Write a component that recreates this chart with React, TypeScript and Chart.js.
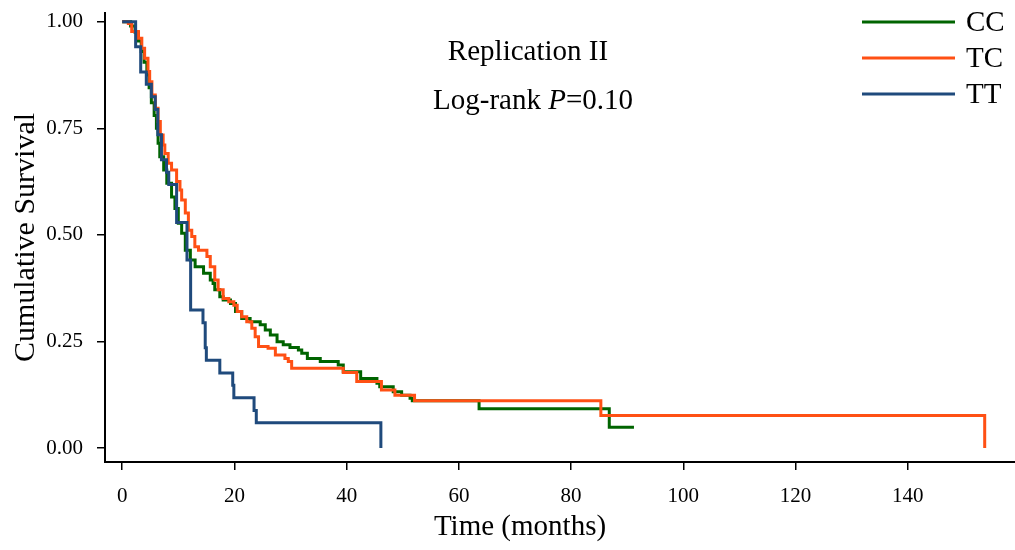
import React, { useEffect, useRef } from 'react';
import { Chart, registerables } from 'chart.js';

Chart.register(...registerables);

// ---------------- data ----------------
const SERIES_LABELS = ['CC', 'TC', 'TT'];
const SERIES_COLORS = ['#006400', '#FF5014', '#1F4A7C'];

const CC_TIME = [0, 1.5, 2.3, 2.9, 3.4, 3.9, 4.4, 4.8, 5.2, 5.7, 6.1, 6.4, 6.7, 7.4, 7.95, 8.8, 9.4, 10.0, 10.6, 11.25, 12.15, 13.0, 14.5, 15.7, 16.2, 16.5, 17.4, 18.0, 19.3, 20.2, 21.3, 22.8, 24.6, 25.5, 26.4, 27.6, 28.7, 29.9, 31.4, 32.0, 33.0, 35.3, 38.5, 39.4, 42.5, 45.4, 45.9, 48.3, 49.8, 51.3, 51.7, 63.6, 86.8, 91.2];
const CC_SURV = [1, 0.99, 0.975, 0.955, 0.93, 0.905, 0.875, 0.845, 0.81, 0.78, 0.75, 0.715, 0.683, 0.652, 0.621, 0.589, 0.562, 0.527, 0.504, 0.464, 0.441, 0.425, 0.41, 0.394, 0.386, 0.371, 0.355, 0.347, 0.339, 0.32, 0.304, 0.296, 0.289, 0.277, 0.265, 0.249, 0.242, 0.236, 0.23, 0.222, 0.21, 0.203, 0.195, 0.179, 0.163, 0.152, 0.144, 0.132, 0.124, 0.117, 0.111, 0.092, 0.0485, 0.0485];

const TC_TIME = [0, 1.1, 1.7, 2.9, 3.5, 4.0, 4.6, 4.9, 5.3, 5.9, 6.4, 6.8, 7.3, 7.6, 8.2, 8.8, 9.7, 10.3, 10.6, 11.25, 11.8, 12.4, 12.95, 13.6, 15.1, 15.7, 16.5, 17.1, 18.0, 19.0, 19.9, 20.5, 21.3, 22.2, 23.1, 23.7, 24.3, 26.0, 27.3, 29.0, 29.6, 30.2, 39.4, 41.8, 46.2, 48.6, 52.1, 85.3, 153.7];
const TC_SURV = [1, 0.996, 0.977, 0.961, 0.938, 0.914, 0.883, 0.859, 0.828, 0.797, 0.766, 0.734, 0.711, 0.691, 0.668, 0.652, 0.625, 0.605, 0.582, 0.551, 0.511, 0.496, 0.472, 0.464, 0.449, 0.425, 0.394, 0.371, 0.351, 0.343, 0.335, 0.32, 0.308, 0.296, 0.281, 0.261, 0.238, 0.234, 0.218, 0.21, 0.203, 0.187, 0.177, 0.156, 0.136, 0.124, 0.111, 0.076, 0];

const TT_TIME = [0, 2.4, 3.3, 4.3, 5.2, 5.9, 6.35, 7.0, 7.9, 8.3, 9.7, 11.55, 12.2, 14.4, 14.8, 15.0, 17.4, 19.7, 19.9, 23.5, 23.9, 46.1];
const TT_SURV = [1, 0.941, 0.882, 0.853, 0.824, 0.794, 0.735, 0.676, 0.647, 0.618, 0.529, 0.441, 0.324, 0.294, 0.235, 0.206, 0.176, 0.147, 0.118, 0.088, 0.059, 0];

const X_TICKS = [0, 20, 40, 60, 80, 100, 120, 140];
const Y_TICKS = [0, 0.25, 0.5, 0.75, 1];

const TITLE_TEXT = 'Replication II';
const LOGRANK_PREFIX = 'Log-rank ';
const LOGRANK_ITALIC = 'P';
const LOGRANK_SUFFIX = '=0.10';
const X_TITLE = 'Time (months)';
const Y_TITLE = 'Cumulative Survival';

const FONT = "'Liberation Serif', 'Times New Roman', serif";
const TEXT_SIZE = 29;
const Y_TITLE_SIZE = 30;
const TICK_SIZE = 21;

const toPoints = (t: number[], s: number[]) => t.map((x, i) => ({ x, y: s[i] }));

const overlayPlugin = {
  id: 'overlayText',
  afterDraw(chart: any) {
    const ctx: CanvasRenderingContext2D = chart.ctx;
    ctx.save();
    ctx.fillStyle = '#000';
    ctx.textBaseline = 'middle';

    const normal = `${TEXT_SIZE}px ${FONT}`;
    const italic = `italic ${TEXT_SIZE}px ${FONT}`;

    // Title
    ctx.font = normal;
    ctx.textAlign = 'center';
    ctx.fillText(TITLE_TEXT, 528, 52);

    // Log-rank line with italic P
    ctx.font = normal;
    const w1 = ctx.measureText(LOGRANK_PREFIX).width;
    const w3 = ctx.measureText(LOGRANK_SUFFIX).width;
    ctx.font = italic;
    const w2 = ctx.measureText(LOGRANK_ITALIC).width;
    let x = 533 - (w1 + w2 + w3) / 2;
    ctx.textAlign = 'left';
    ctx.font = normal;
    ctx.fillText(LOGRANK_PREFIX, x, 101);
    x += w1;
    ctx.font = italic;
    ctx.fillText(LOGRANK_ITALIC, x, 101);
    x += w2;
    ctx.font = normal;
    ctx.fillText(LOGRANK_SUFFIX, x, 101);

    // X axis title
    ctx.textAlign = 'center';
    ctx.fillText(X_TITLE, 520, 527);

    // Legend
    ctx.textAlign = 'left';
    chart.data.datasets.forEach((ds: any, i: number) => {
      const y = 22 + i * 36;
      ctx.strokeStyle = ds.borderColor;
      ctx.lineWidth = 3;
      ctx.beginPath();
      ctx.moveTo(862, y);
      ctx.lineTo(955, y);
      ctx.stroke();
      ctx.fillStyle = '#000';
      ctx.font = normal;
      ctx.fillText(ds.label, 966, y + 1);
    });
    ctx.restore();
  },
};

export default function App() {
  const canvasRef = useRef<HTMLCanvasElement | null>(null);

  useEffect(() => {
    if (!canvasRef.current) return;
    const seriesT = [CC_TIME, TC_TIME, TT_TIME];
    const seriesS = [CC_SURV, TC_SURV, TT_SURV];
    const chart = new Chart(canvasRef.current, {
      type: 'line',
      data: {
        datasets: SERIES_LABELS.map((label, i) => ({
          label,
          data: toPoints(seriesT[i], seriesS[i]),
          borderColor: SERIES_COLORS[i],
          backgroundColor: SERIES_COLORS[i],
          borderWidth: 3,
          pointRadius: 0,
          stepped: 'before' as const,
          fill: false,
          order: 3 - i,
        })),
      },
      options: {
        responsive: false,
        maintainAspectRatio: false,
        animation: false,
        layout: { padding: { top: 13, right: 0, left: 0, bottom: 0 } },
        plugins: {
          legend: { display: false },
          tooltip: { enabled: false },
          title: { display: false },
        },
        scales: {
          x: {
            type: 'linear',
            min: -3.06,
            max: 159.1,
            afterBuildTicks: (s: any) => {
              s.ticks = X_TICKS.map((v) => ({ value: v }));
            },
            afterFit: (s: any) => {
              s.height = 88;
              s.paddingLeft = 0;
              s.paddingRight = 0;
            },
            grid: {
              display: true,
              drawOnChartArea: false,
              drawTicks: true,
              tickLength: 8,
              color: '#000',
              lineWidth: 1.5,
            },
            border: { display: true, color: '#000', width: 2 },
            ticks: {
              color: '#000',
              font: { family: FONT, size: TICK_SIZE },
              padding: 14,
              maxRotation: 0,
              autoSkip: false,
              callback: (v: any) => String(v),
            },
          },
          y: {
            type: 'linear',
            min: -0.0328,
            max: 1.0204,
            afterBuildTicks: (s: any) => {
              s.ticks = Y_TICKS.map((v) => ({ value: v }));
            },
            afterFit: (s: any) => {
              s.width = 105;
              s.paddingTop = 0;
              s.paddingBottom = 0;
            },
            grid: {
              display: true,
              drawOnChartArea: false,
              drawTicks: true,
              tickLength: 8,
              color: '#000',
              lineWidth: 1.5,
            },
            border: { display: true, color: '#000', width: 2 },
            ticks: {
              color: '#000',
              font: { family: FONT, size: TICK_SIZE },
              padding: 14,
              autoSkip: false,
              callback: (v: any) => Number(v).toFixed(2),
            },
            title: {
              display: true,
              text: Y_TITLE,
              color: '#000',
              font: { family: FONT, size: Y_TITLE_SIZE },
              padding: { top: 8, bottom: 0 },
            },
          },
        },
      },
      plugins: [overlayPlugin],
    });
    return () => chart.destroy();
  }, []);

  return (
    <div style={{ position: 'absolute', left: 0, top: 0, width: 1015, height: 550, background: '#fff' }}>
      <canvas ref={canvasRef} width={1015} height={550} />
    </div>
  );
}
